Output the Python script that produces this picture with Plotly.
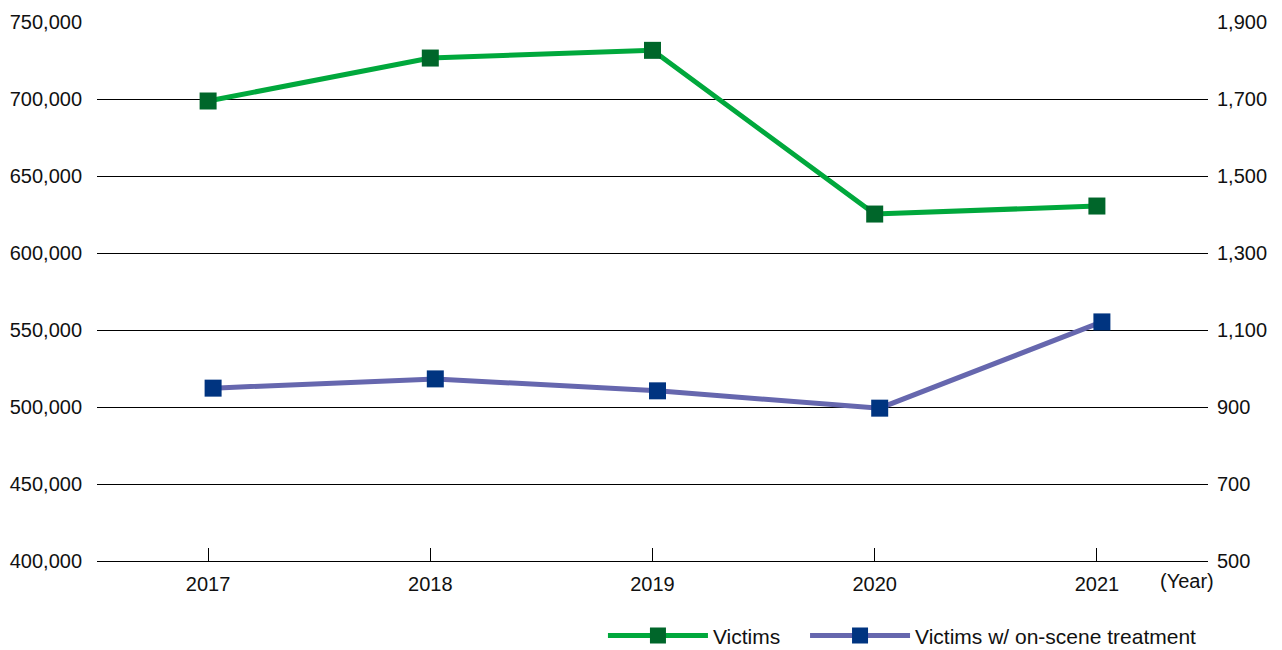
import plotly.graph_objects as go

years = ["2017", "2018", "2019", "2020", "2021"]
victims = [698700, 726600, 731600, 625300, 630500]
treated = [949, 973, 942, 897, 1121]
left_ticks = [400000, 450000, 500000, 550000, 600000, 650000, 700000, 750000]
right_ticks = [500, 700, 900, 1100, 1300, 1500, 1700, 1900]

FONT = "Liberation Sans, Arial, sans-serif"

fig = go.Figure()
fig.add_trace(go.Scatter(
    x=years, y=victims, name="Victims", mode="lines+markers",
    line=dict(color="#00A83C", width=5),
    marker=dict(symbol="square", size=17, color="#00662A"),
    xaxis="x", yaxis="y", legend="legend",
))
fig.add_trace(go.Scatter(
    x=years, y=treated, name="Victims w/ on-scene treatment", mode="lines+markers",
    line=dict(color="#6667AE", width=5),
    marker=dict(symbol="square", size=17, color="#003480"),
    xaxis="x2", yaxis="y2", legend="legend2",
))

shift = 5 / 222.2
leg_common = dict(orientation="h", xanchor="left", y=-0.139, yanchor="middle",
                  font=dict(size=21), itemwidth=100, bgcolor="rgba(0,0,0,0)")
# page body has an 8px margin, so the figure is sized 8px smaller
fig.update_layout(
    width=1274, height=642,
    margin=dict(l=89, r=74, t=14, b=89, autoexpand=False),
    paper_bgcolor="white", plot_bgcolor="white",
    font=dict(family=FONT, size=20, color="#111111"),
    showlegend=True,
    legend=dict(x=0.4554, **leg_common),
    legend2=dict(x=0.6373, **leg_common),
    xaxis=dict(type="category", categoryorder="array", categoryarray=years,
               range=[-0.5, 4.5], showgrid=False, showline=True, linecolor="black", linewidth=1,
               ticks="inside", ticklen=13, tickcolor="black", tickwidth=1,
               tickfont=dict(size=20), ticklabelstandoff=5, zeroline=False, automargin=False),
    xaxis2=dict(type="category", categoryorder="array", categoryarray=years,
                range=[-0.5 - shift, 4.5 - shift], overlaying="x", visible=False),
    yaxis=dict(range=[400000, 750000], tickvals=left_ticks, tickformat=",d",
               showgrid=True, gridcolor="black", gridwidth=1, zeroline=False,
               showline=False, ticks="", ticklabelstandoff=14, tickfont=dict(size=20),
               automargin=False),
    yaxis2=dict(range=[500, 1900], tickvals=right_ticks, tickformat=",d",
                overlaying="y", side="right", showgrid=False, zeroline=False,
                showline=False, ticks="", ticklabelstandoff=8, tickfont=dict(size=20),
                automargin=False),
    annotations=[dict(text="(Year)", xref="paper", yref="paper", x=0.955, y=0,
                      xanchor="left", yanchor="top", yshift=-7, showarrow=False,
                      font=dict(size=20))],
)
fig.write_html("out.html")
